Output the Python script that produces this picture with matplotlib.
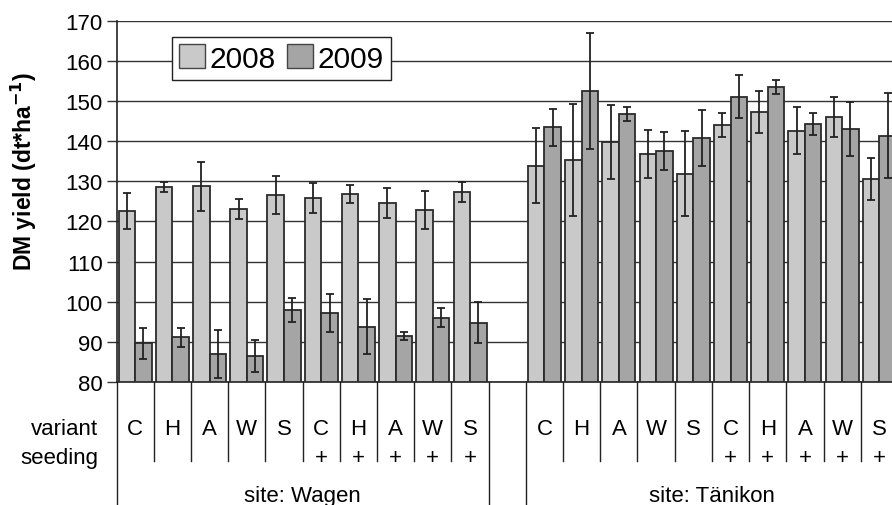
import numpy as np
import matplotlib
matplotlib.use('Agg')
import matplotlib.pyplot as plt
import matplotlib.transforms as mtransforms
from matplotlib.patches import Patch

plt.rcParams['font.family'] = ['Liberation Sans', 'DejaVu Sans']

# ─────────────── data ───────────────
variants = ['C', 'H', 'A', 'W', 'S', 'C', 'H', 'A', 'W', 'S']
seeding  = ['', '', '', '', '', '+', '+', '+', '+', '+']
sites    = ['site: Wagen', 'site: Tänikon']
years    = ['2008', '2009']

wagen_2008     = [122.5, 128.6, 128.7, 123.2, 126.6, 125.9, 126.8, 124.6, 122.8, 127.3]
wagen_2008_err = [4.5, 1.3, 6.2, 2.5, 4.7, 3.7, 2.3, 3.8, 4.7, 2.4]
wagen_2009     = [89.6, 91.1, 86.9, 86.5, 97.9, 97.2, 93.8, 91.4, 96.0, 94.8]
wagen_2009_err = [3.8, 2.3, 6.0, 3.9, 3.0, 4.8, 6.9, 1.0, 2.4, 5.0]

taenikon_2008     = [133.9, 135.3, 139.8, 136.8, 131.9, 144.0, 147.3, 142.6, 146.0, 130.6]
taenikon_2008_err = [9.3, 13.9, 9.3, 6.0, 10.6, 3.0, 5.2, 5.8, 5.0, 5.2]
taenikon_2009     = [143.4, 152.5, 146.8, 137.5, 140.7, 151.1, 153.4, 144.3, 143.1, 141.3]
taenikon_2009_err = [4.5, 14.4, 1.7, 4.7, 7.0, 5.4, 1.7, 2.8, 6.7, 10.6]

# ─────────────── styles ───────────────
COL_2008 = '#c9c9c9'
COL_2009 = '#a5a5a5'
EDGE     = '#2b2b2b'
BAR_W    = 0.445
FS       = 16

# group positions: 10 Wagen groups, one empty slot, 10 Tänikon groups
pos_w = np.arange(10)
pos_t = np.arange(10) + 11

fig = plt.figure(figsize=(8.92, 5.06), dpi=100)
ax = fig.add_axes([0.1307, 0.2431, 0.8693, 0.7141])

for pos, v08, e08, v09, e09 in [(pos_w, wagen_2008, wagen_2008_err, wagen_2009, wagen_2009_err),
                                (pos_t, taenikon_2008, taenikon_2008_err, taenikon_2009, taenikon_2009_err)]:
    ax.bar(pos - BAR_W / 2, np.array(v08) - 80, BAR_W, bottom=80, color=COL_2008,
           edgecolor=EDGE, linewidth=1.3, zorder=3)
    ax.bar(pos + BAR_W / 2, np.array(v09) - 80, BAR_W, bottom=80, color=COL_2009,
           edgecolor=EDGE, linewidth=1.3, zorder=3)
    ax.errorbar(pos - BAR_W / 2, v08, yerr=e08, fmt='none', ecolor='#222222',
                elinewidth=1.3, capsize=3.2, capthick=1.3, zorder=4)
    ax.errorbar(pos + BAR_W / 2, v09, yerr=e09, fmt='none', ecolor='#222222',
                elinewidth=1.3, capsize=3.2, capthick=1.3, zorder=4)

# axes
ax.set_ylim(80, 170)
ax.set_xlim(-0.5, 20.34)
ax.set_yticks(np.arange(80, 171, 10))
ax.yaxis.grid(True, color='#333333', linewidth=1.0, zorder=0)
ax.set_axisbelow(True)
ax.tick_params(axis='y', labelsize=FS, length=7, width=1, color='#333333', pad=3)
ax.tick_params(axis='x', bottom=False, labelbottom=False)
for s in ['top', 'right']:
    ax.spines[s].set_visible(False)
for s in ['left', 'bottom']:
    ax.spines[s].set_color('#222222')
    ax.spines[s].set_linewidth(1.2)

fig.text(24 / 892, 1 - 171 / 506, 'DM yield (dt*ha$^{\\mathbf{-1}}$)', rotation=90,
         fontsize=16.5, fontweight='bold', ha='center', va='center')

# legend
handles = [Patch(facecolor=COL_2008, edgecolor='#444444', label=years[0]),
           Patch(facecolor=COL_2009, edgecolor='#444444', label=years[1])]
leg = ax.legend(handles=handles, loc='upper left', bbox_to_anchor=(0.0714, 0.955),
                ncol=2, fontsize=21.5, frameon=True, fancybox=False, framealpha=1,
                edgecolor='#222222', borderaxespad=0, handlelength=0.85, handleheight=0.85,
                handletextpad=0.15, columnspacing=0.4, borderpad=0.25)
leg.get_frame().set_linewidth(1.0)
leg.set_zorder(5)

# ─────────────── category table under the axis ───────────────
trans = mtransforms.blended_transform_factory(ax.transData, ax.transAxes)
y_var, y_seed, y_inner, y_site, y_bottom = -0.130, -0.2076, -0.2187, -0.3147, -0.36

for pos in (pos_w, pos_t):
    for i, p in enumerate(pos):
        ax.text(p, y_var, variants[i], transform=trans, ha='center', va='center', fontsize=FS)
        if seeding[i]:
            ax.text(p, y_seed, seeding[i], transform=trans, ha='center', va='center', fontsize=FS)
    for p in pos[1:]:
        ax.plot([p - 0.5, p - 0.5], [0, y_inner], transform=trans, color='#222222',
                lw=1.0, clip_on=False)

for xb in [-0.5, 9.5, 10.5, 20.5]:
    ax.plot([xb, xb], [0, y_bottom], transform=trans, color='#222222', lw=1.0, clip_on=False)

ax.text(4.5, y_site, sites[0], transform=trans, ha='center', va='center', fontsize=FS)
ax.text(15.5, y_site, sites[1], transform=trans, ha='center', va='center', fontsize=FS)
ax.text(-1.0, y_var, 'variant', transform=trans, ha='right', va='center', fontsize=FS)
ax.text(-1.0, y_seed, 'seeding', transform=trans, ha='right', va='center', fontsize=FS)

fig.savefig('out.png', dpi=100)
